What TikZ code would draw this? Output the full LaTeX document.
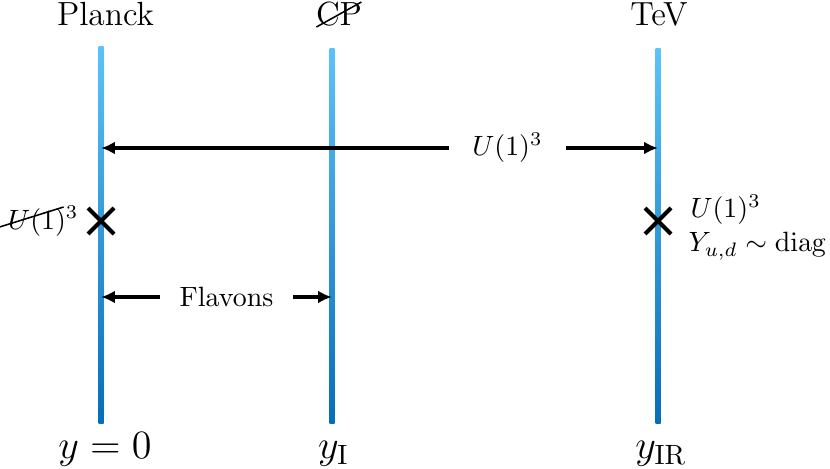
\documentclass[tikz,border=0pt]{standalone}
\usetikzlibrary{arrows.meta}
\definecolor{lineTop}{RGB}{92,194,250}
\definecolor{lineBot}{RGB}{6,110,184}
\begin{document}
\begin{tikzpicture}[x=0.3584pt,y=-0.3584pt,
  brane/.style={top color=lineTop,bottom color=lineBot,draw=none},
  arr/.style={line width=1.1pt,-{Latex[length=5pt,width=4.6pt]}},
  toplabel/.style={font=\large,anchor=base,inner sep=0pt},
  botlabel/.style={font=\Large,anchor=base,inner sep=0pt},
  sidelabel/.style={inner sep=0pt},
  crossmark/.style={line width=1.5pt,line cap=butt},
  strike/.style={line width=0.55pt}]
\useasboundingbox (0,0) rectangle (830,469);
% branes
\shade[brane] (98.5,47) rectangle (103.5,423);
\shade[brane] (329.5,49) rectangle (334.5,423);
\shade[brane] (655.5,49) rectangle (660.5,423);
% top labels
\node[toplabel] (planck) at (105.5,26) {Planck};
\node[toplabel] (cp) at (339,26) {CP};
\draw[strike] (cp.base west) ++(1,1) -- ++(45,-25);
\node[toplabel] (tev) at (659,26) {TeV};
% bottom labels
\node[botlabel] (y0) at (105,458) {$y=0$};
\node[botlabel] (yI) at (333.5,458) {$y_{\mathrm{I}}$};
\node[botlabel] (yIR) at (661,458) {$y_{\mathrm{IR}}$};
% top arrow
\coordinate (pA) at (101,148);
\coordinate (tA) at (658,148);
\node[inner xsep=8.3pt] (u) at (507.5,148) {$U(1)^3$};
\draw[arr] (u.west) -- (pA);
\draw[arr] (u.east) -- (tA);
% flavons arrow
\coordinate (pF) at (101,297);
\coordinate (iF) at (332,297);
\node[inner xsep=6.8pt] (fl) at (226.5,297) {Flavons};
\draw[arr] (fl.west) -- (pF);
\draw[arr] (fl.east) -- (iF);
% crosses
\coordinate (x1) at (101,221);
\coordinate (x2) at (658,221);
\draw[crossmark] (x1) ++(-13,-13) -- ++(26,26) (x1) ++(-13,13) -- ++(26,-26);
\draw[crossmark] (x2) ++(-13,-13) -- ++(26,26) (x2) ++(-13,13) -- ++(26,-26);
% left label
\node[sidelabel,anchor=base east] (bu) at (79,229) {$U(1)^3$};
\draw[strike] (bu.base west) ++(-8,-2) -- ++(64,-20);
% right label
\node[sidelabel,anchor=base west] (r1) at (690,218) {$U(1)^3$};
\node[sidelabel,anchor=base west] (r2) at (688,252) {$Y_{u,d}\sim\mathrm{diag}$};
\end{tikzpicture}
\end{document}
